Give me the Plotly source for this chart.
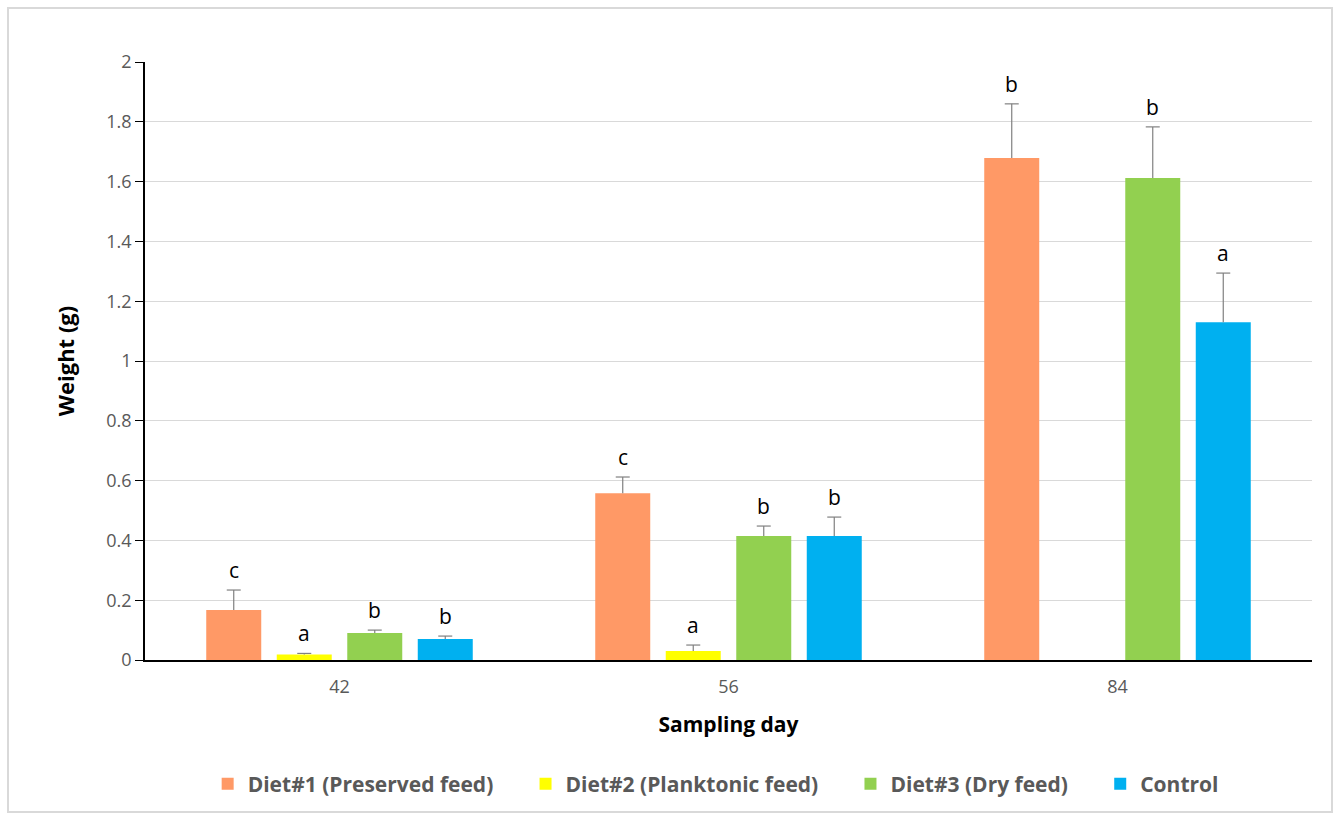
import plotly.graph_objects as go

# Sampling days and treatments
days = ["42", "56", "84"]
series_names = ["Diet#1 (Preserved feed)", "Diet#2 (Planktonic feed)", "Diet#3 (Dry feed)", "Control"]
series_colors = ["#FF9966", "#FFFF00", "#92D050", "#00B0F0"]

# Mean weight (g) per day
diet1 = [0.167, 0.558, 1.679]
diet2 = [0.018, 0.030, None]
diet3 = [0.090, 0.415, 1.612]
control = [0.070, 0.415, 1.130]

# Upper error (g)
diet1_err = [0.067, 0.054, 0.181]
diet2_err = [0.004, 0.020, None]
diet3_err = [0.010, 0.033, 0.171]
control_err = [0.010, 0.063, 0.164]

# Significance letters
diet1_sig = ["c", "c", "b"]
diet2_sig = ["a", "a", None]
diet3_sig = ["b", "b", "b"]
control_sig = ["b", "b", "a"]

values = [diet1, diet2, diet3, control]
errors = [diet1_err, diet2_err, diet3_err, control_err]
letters = [diet1_sig, diet2_sig, diet3_sig, control_sig]

FONT = "Open Sans, Lato, sans-serif"
PAD = "&nbsp;" * 5
BARGAP = 0.275
ERR_COLOR = "#808080"

n = len(series_names)
slot_cat = (1 - BARGAP) / n  # width of one bar slot in category units

fig = go.Figure()
for k, (name, color, vals, errs) in enumerate(zip(series_names, series_colors, values, errors)):
    label = "<b>" + name + "</b>" + (PAD if k < n - 1 else "")
    fig.add_trace(go.Bar(
        name=label,
        x=days,
        y=vals,
        marker=dict(color=color, line=dict(width=0)),
        error_y=dict(type="data", array=[e if e is not None else 0 for e in errs],
                     symmetric=False, arrayminus=[0, 0, 0],
                     color=ERR_COLOR, thickness=1.2, width=0),
    ))

# Caps only at the upper end of each error bar
for k, (vals, errs) in enumerate(zip(values, errors)):
    xs, ys = [], []
    for j in range(len(days)):
        if vals[j] is None or errs[j] is None:
            continue
        xs.append(j + (k - (n - 1) / 2) * slot_cat)
        ys.append(vals[j] + errs[j])
    fig.add_trace(go.Scatter(
        x=xs, y=ys, xaxis="x2", mode="markers", showlegend=False, hoverinfo="skip",
        marker=dict(symbol="line-ew", size=10, line=dict(color=ERR_COLOR, width=1.2)),
    ))

L, R, T, B = 145, 28, 62, 153
W, H = 1340, 813
pw, ph = W - L - R, H - T - B
slot_px = pw / len(days) * slot_cat

# Significance letters above the error bars
for i, (vals, errs, lets) in enumerate(zip(values, errors, letters)):
    for j, day in enumerate(days):
        if lets[j] is None:
            continue
        top = vals[j] + errs[j]
        fig.add_annotation(
            x=j, y=top, xref="x", yref="y",
            xshift=(i - (n - 1) / 2) * slot_px,
            yshift=20, text=lets[j], showarrow=False,
            font=dict(family=FONT, size=21, color="#000000"),
        )

# Outer chart border
fig.add_shape(type="rect", xref="paper", yref="paper",
              x0=(8 - L) / pw, x1=(1332 - L) / pw,
              y0=-(812 - T - ph) / ph, y1=1 + (T - 8) / ph,
              line=dict(color="#D9D9D9", width=2), fillcolor="rgba(0,0,0,0)", layer="below")

fig.update_layout(
    width=W, height=H,
    margin=dict(l=L, r=R, t=T, b=B, autoexpand=False),
    paper_bgcolor="white", plot_bgcolor="white",
    barmode="group", bargap=BARGAP, bargroupgap=0.22,
    font=dict(family=FONT, color="#595959"),
    xaxis=dict(
        type="category", range=[-0.5, len(days) - 0.5],
        showline=True, linecolor="#000000", linewidth=1.5,
        ticks="outside", ticklen=10, tickcolor="rgba(0,0,0,0)",
        tickfont=dict(size=18, color="#595959"),
        title=dict(text="<b>Sampling day</b>", font=dict(size=21, color="#000000"), standoff=20),
        showgrid=False,
    ),
    xaxis2=dict(
        overlaying="x", range=[-0.5, len(days) - 0.5], visible=False,
    ),
    yaxis=dict(
        range=[0, 2], dtick=0.2, tickformat="~g",
        showline=True, linecolor="#000000", linewidth=1.5,
        ticks="outside", ticklen=8, tickcolor="#000000",
        tickfont=dict(size=18, color="#595959"),
        gridcolor="#D9D9D9", gridwidth=1, zeroline=False,
        title=dict(text="<b>Weight (g)</b>", font=dict(size=22, color="#000000"), standoff=26),
    ),
    legend=dict(
        orientation="h", x=0.489, xanchor="center",
        yref="container", y=1 - 784 / H, yanchor="middle",
        bgcolor="rgba(0,0,0,0)",
        font=dict(size=21, color="#595959"), itemwidth=30,
        traceorder="normal",
    ),
)

fig.write_html("out.html")
